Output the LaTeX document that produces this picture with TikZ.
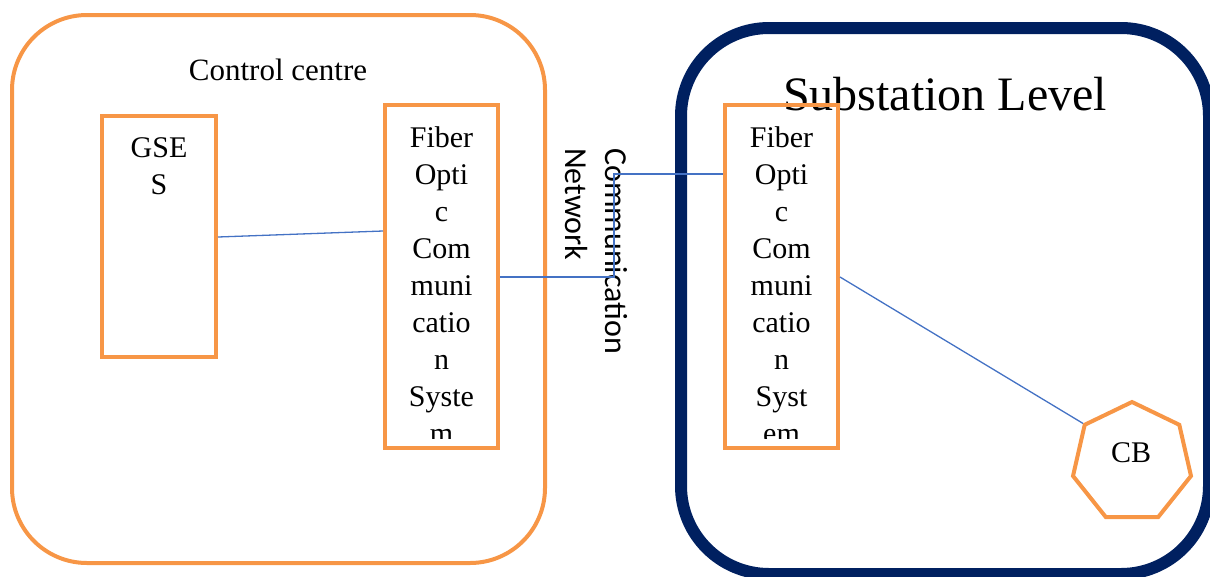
\documentclass[tikz,border=0pt]{standalone}
\usepackage{fontspec}
\setmainfont{Liberation Serif}
\newfontfamily\netfont{Carlito}
\usetikzlibrary{shapes.geometric}
\definecolor{boxorange}{HTML}{F79646}
\definecolor{navy}{HTML}{002060}
\definecolor{linkblue}{HTML}{4472C4}
\begin{document}
\begin{tikzpicture}[x=1pt, y=-1pt,
  obox/.style={draw=boxorange, line width=4pt, rectangle, inner sep=0pt},
  link/.style={draw=linkblue, line width=1.3pt},
  boxtext/.style={align=center, inner sep=0pt, font=\fontsize{30}{37}\selectfont},
]
\useasboundingbox (0,0) rectangle (1210,576);
\clip (0,0) rectangle (1210,576);

% control centre frame
\draw[draw=boxorange, line width=4pt, rounded corners=75pt] (12,15) rectangle (545,563);
\node[anchor=base, inner sep=0pt, font=\fontsize{31}{37}\selectfont] (cctitle) at (278,80) {Control centre};

% substation frame
\draw[draw=navy, line width=12pt, rounded corners=88pt] (681,28) rectangle (1209,574);
\node[anchor=base, inner sep=0pt, font=\fontsize{48}{56}\selectfont] (sstitle) at (945,110) {Substation Level};

% boxes
\node[obox, minimum width=114pt, minimum height=241pt] (gses) at (159,236.5) {};
\node[obox, minimum width=113pt, minimum height=343pt] (foL) at (441.5,276.5) {};
\node[obox, minimum width=113pt, minimum height=343pt] (foR) at (781.5,276.5) {};

\node[boxtext, anchor=north] (gsestext) at (159,137) {GSE\\S};

\begin{scope}
  \clip (388,108) rectangle (495,438);
  \node[boxtext, anchor=north] (foLtext) at (441.5,126) {Fiber\\Opti\\c\\Com\\muni\\catio\\n\\Syste\\m};
\end{scope}
\begin{scope}
  \clip (728,108) rectangle (835,438);
  \node[boxtext, anchor=north] (foRtext) at (781.5,126) {Fiber\\Opti\\c\\Com\\muni\\catio\\n\\Syst\\em};
\end{scope}

% circuit breaker
\node[regular polygon, regular polygon sides=7, draw=boxorange, line width=4pt,
      minimum size=121pt, inner sep=0pt] (cb) at (1132,462.5) {};
\node[anchor=base, inner sep=0pt, font=\fontsize{30}{34}\selectfont] (cblabel) at (1131,462) {CB};

% network label
\node[rotate=-90, anchor=north west, align=left, inner sep=0pt,
      font=\netfont\fontsize{32}{40}\selectfont] (net) at (628,148) {Communication\\Network};

% links
\coordinate (bendlow) at (614,277);
\coordinate (bendhigh) at (614,174);
\draw[link] (gses.east |- 0,237) -- (foL.west |- 0,231);
\draw[link] (foL.east |- bendlow) -- (bendlow) -- (bendhigh) -- (foR.west |- bendhigh);
\draw[link] (foR.east |- 0,277) -- (cb.corner 2);
\end{tikzpicture}
\end{document}
